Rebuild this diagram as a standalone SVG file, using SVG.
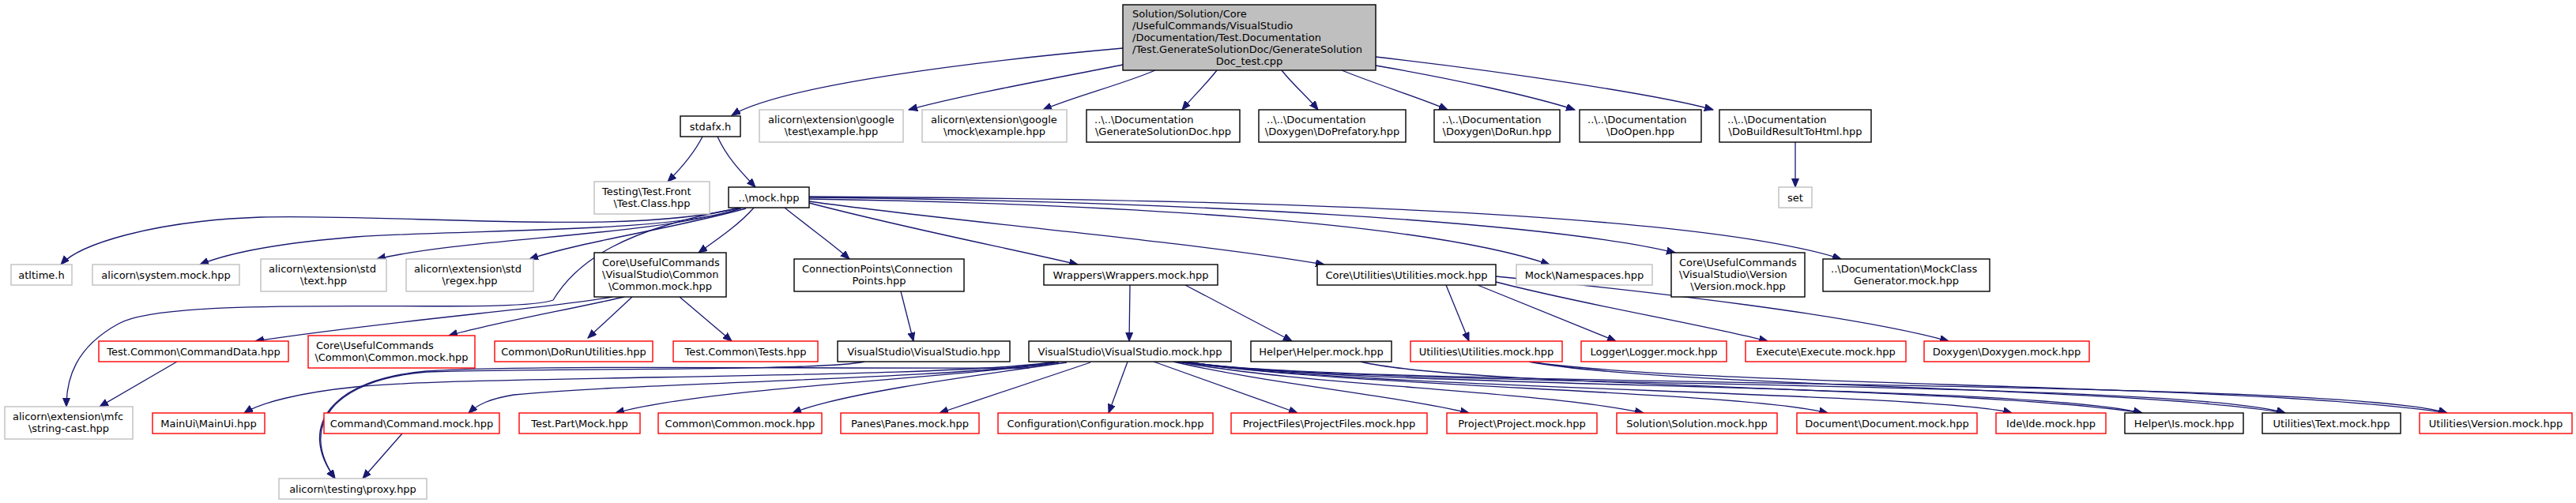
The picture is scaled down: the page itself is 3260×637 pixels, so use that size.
<svg xmlns="http://www.w3.org/2000/svg" width="3260" height="637" viewBox="0 0 3260 637">
<style>
rect{fill:#fff;stroke-width:1.4}
.k{stroke:#000}
.g{stroke:#bfbfbf}
.r{stroke:#ff0000}
.root{fill:#bfbfbf;stroke:#000}
text{font-family:"DejaVu Sans","Liberation Sans",sans-serif;font-size:13px;fill:#000}
.c{text-anchor:middle}
#edges path{fill:none;stroke:#191970;stroke-width:1.3}
</style>
<defs>
<marker id="a" markerUnits="userSpaceOnUse" markerWidth="12" markerHeight="10" refX="11" refY="4.5" orient="auto">
<path d="M0,0 L11,4.5 L0,9 z" fill="#191970" stroke="#191970" stroke-width="1"/>
</marker>
</defs>
<rect x="0" y="0" width="3260" height="637" style="fill:#fff;stroke:none"/>
<g id="edges">
<path d="M1421,61 C1230,78 990,108 926,146" marker-end="url(#a)"/>
<path d="M1421,82 C1330,100 1220,120 1150,139" marker-end="url(#a)"/>
<path d="M1462,89 C1420,107 1360,122 1320,139" marker-end="url(#a)"/>
<path d="M1540,89 C1525,108 1510,122 1496,139" marker-end="url(#a)"/>
<path d="M1622,89 C1637,108 1654,122 1668,139" marker-end="url(#a)"/>
<path d="M1698,89 C1745,108 1800,125 1832,139" marker-end="url(#a)"/>
<path d="M1741,83 C1840,100 1940,122 1993,139" marker-end="url(#a)"/>
<path d="M1741,72 C1900,90 2100,120 2168,139" marker-end="url(#a)"/>
<path d="M889,173 C878,195 860,215 845,230" marker-end="url(#a)"/>
<path d="M908,173 C920,200 940,220 956,237" marker-end="url(#a)"/>
<path d="M2272,180 L2272,237" marker-end="url(#a)"/>
<path d="M940,262 C800,300 500,270 330,275 C190,280 100,310 77,335" marker-end="url(#a)"/>
<path d="M936,264 C850,295 600,290 450,300 C350,308 290,320 253,335" marker-end="url(#a)"/>
<path d="M938,264 C820,300 600,300 477,328" marker-end="url(#a)"/>
<path d="M944,264 C850,290 740,305 670,328" marker-end="url(#a)"/>
<path d="M933,264 C790,290 730,330 700,380 C650,400 220,370 150,410 C95,440 84,480 84,515" marker-end="url(#a)"/>
<path d="M954,263 C935,285 905,305 884,320" marker-end="url(#a)"/>
<path d="M993,263 C1020,285 1055,310 1075,328" marker-end="url(#a)"/>
<path d="M1024,257 C1150,290 1280,315 1364,335" marker-end="url(#a)"/>
<path d="M1024,255 C1200,280 1500,305 1676,335" marker-end="url(#a)"/>
<path d="M1024,252 C1400,258 1800,280 1961,335" marker-end="url(#a)"/>
<path d="M1024,250 C1500,255 1950,280 2120,320" marker-end="url(#a)"/>
<path d="M1024,249 C1600,252 2150,270 2330,328" marker-end="url(#a)"/>
<path d="M775,376 C700,390 500,405 323,432" marker-end="url(#a)"/>
<path d="M790,376 C720,392 620,410 568,425" marker-end="url(#a)"/>
<path d="M800,376 L744,428" marker-end="url(#a)"/>
<path d="M860,376 L926,432" marker-end="url(#a)"/>
<path d="M224,458 L126,515" marker-end="url(#a)"/>
<path d="M1140,369 L1156,432" marker-end="url(#a)"/>
<path d="M1430,361 L1429,432" marker-end="url(#a)"/>
<path d="M1500,361 L1635,432" marker-end="url(#a)"/>
<path d="M1830,361 L1859,432" marker-end="url(#a)"/>
<path d="M1870,361 L2045,432" marker-end="url(#a)"/>
<path d="M1893,357 C2000,385 2150,410 2237,432" marker-end="url(#a)"/>
<path d="M1893,350 C2100,370 2350,400 2466,432" marker-end="url(#a)"/>
<path d="M1335,458 C1200,480 600,475 450,490 C380,497 330,510 309,523" marker-end="url(#a)"/>
<path d="M1335,459 C1200,480 800,485 650,500 C620,505 605,512 593,523" marker-end="url(#a)"/>
<path d="M1340,459 C1200,480 900,490 779,523" marker-end="url(#a)"/>
<path d="M1350,459 C1200,480 1060,500 1003,523" marker-end="url(#a)"/>
<path d="M1380,459 L1189,523" marker-end="url(#a)"/>
<path d="M1427,458 L1403,523" marker-end="url(#a)"/>
<path d="M1460,458 L1642,523" marker-end="url(#a)"/>
<path d="M1485,458 C1600,485 1760,500 1859,523" marker-end="url(#a)"/>
<path d="M1490,458 C1650,488 1950,495 2080,523" marker-end="url(#a)"/>
<path d="M1495,458 C1700,490 2200,495 2313,523" marker-end="url(#a)"/>
<path d="M1495,458 C1700,492 2450,497 2546,523" marker-end="url(#a)"/>
<path d="M1500,458 C1700,492 2550,485 2711,523" marker-end="url(#a)"/>
<path d="M1500,458 C1700,492 2750,480 2892,523" marker-end="url(#a)"/>
<path d="M1500,458 C1700,492 2950,478 3097,523" marker-end="url(#a)"/>
<path d="M1302,466 C1000,467 650,462 540,470 C420,480 375,540 424,606" marker-end="url(#a)"/>
<path d="M1094,458 C1040,470 700,466 540,471 C420,481 378,540 424,606" marker-end="url(#a)"/>
<path d="M509,549 L459,606" marker-end="url(#a)"/>
<path d="M1722,458 C1850,490 2500,490 2711,523" marker-end="url(#a)"/>
<path d="M1935,458 C2100,490 2700,490 2892,523" marker-end="url(#a)"/>
<path d="M1935,458 C2150,490 2850,485 3097,523" marker-end="url(#a)"/>
</g>
<g id="root"><rect class="root" x="1421" y="6" width="320" height="83"/><text x="1433" y="22">Solution/Solution/Core</text><text x="1433" y="37">/UsefulCommands/VisualStudio</text><text x="1433" y="52">/Documentation/Test.Documentation</text><text x="1433" y="67">/Test.GenerateSolutionDoc/GenerateSolution</text><text class="c" x="1581" y="82">Doc_test.cpp</text></g>
<g id="stdafx"><rect class="k" x="861" y="147" width="76" height="26"/><text class="c" x="899" y="164.5">stdafx.h</text></g>
<g id="gtest"><rect class="g" x="961" y="139" width="182" height="41"/><text x="972" y="156">alicorn\extension\google</text><text class="c" x="1052" y="171">\test\example.hpp</text></g>
<g id="gmock"><rect class="g" x="1167" y="139" width="183" height="41"/><text x="1178" y="156">alicorn\extension\google</text><text class="c" x="1258.5" y="171">\mock\example.hpp</text></g>
<g id="gensoldoc"><rect class="k" x="1375" y="139" width="194" height="41"/><text x="1385" y="156">..\..\Documentation</text><text class="c" x="1472" y="171">\GenerateSolutionDoc.hpp</text></g>
<g id="doprefatory"><rect class="k" x="1593" y="139" width="186" height="41"/><text x="1603" y="156">..\..\Documentation</text><text class="c" x="1686" y="171">\Doxygen\DoPrefatory.hpp</text></g>
<g id="dorun"><rect class="k" x="1815" y="139" width="159" height="41"/><text x="1825" y="156">..\..\Documentation</text><text class="c" x="1894.5" y="171">\Doxygen\DoRun.hpp</text></g>
<g id="doopen"><rect class="k" x="1999" y="139" width="154" height="41"/><text x="2009" y="156">..\..\Documentation</text><text class="c" x="2076" y="171">\DoOpen.hpp</text></g>
<g id="dobuild"><rect class="k" x="2176" y="139" width="192" height="41"/><text x="2186" y="156">..\..\Documentation</text><text class="c" x="2272" y="171">\DoBuildResultToHtml.hpp</text></g>
<g id="testing"><rect class="g" x="752" y="230" width="146" height="41"/><text x="762" y="247">Testing\Test.Front</text><text class="c" x="825" y="262">\Test.Class.hpp</text></g>
<g id="mock"><rect class="k" x="922" y="237" width="102" height="26"/><text class="c" x="973" y="254.5">..\mock.hpp</text></g>
<g id="set"><rect class="g" x="2251" y="237" width="42" height="26"/><text class="c" x="2272" y="254.5">set</text></g>
<g id="atltime"><rect class="g" x="14" y="335" width="77" height="26"/><text class="c" x="52.5" y="352.5">atltime.h</text></g>
<g id="sysmock"><rect class="g" x="117" y="335" width="186" height="26"/><text class="c" x="210" y="352.5">alicorn\system.mock.hpp</text></g>
<g id="stdtext"><rect class="g" x="330" y="328" width="159" height="41"/><text x="340" y="345">alicorn\extension\std</text><text class="c" x="409.5" y="360">\text.hpp</text></g>
<g id="stdregex"><rect class="g" x="514" y="328" width="161" height="41"/><text x="524" y="345">alicorn\extension\std</text><text class="c" x="594.5" y="360">\regex.hpp</text></g>
<g id="vscommon"><rect class="k" x="752" y="320" width="167" height="56"/><text x="762" y="337">Core\UsefulCommands</text><text x="762" y="352">\VisualStudio\Common</text><text class="c" x="835.5" y="367">\Common.mock.hpp</text></g>
<g id="connpts"><rect class="k" x="1005" y="328" width="215" height="41"/><text x="1015" y="345">ConnectionPoints\Connection</text><text class="c" x="1112.5" y="360">Points.hpp</text></g>
<g id="wrappers"><rect class="k" x="1321" y="335" width="220" height="26"/><text class="c" x="1431" y="352.5">Wrappers\Wrappers.mock.hpp</text></g>
<g id="coreutil"><rect class="k" x="1667" y="335" width="226" height="26"/><text class="c" x="1780" y="352.5">Core\Utilities\Utilities.mock.hpp</text></g>
<g id="namespaces"><rect class="g" x="1919" y="335" width="172" height="26"/><text class="c" x="2005" y="352.5">Mock\Namespaces.hpp</text></g>
<g id="vsversion"><rect class="k" x="2115" y="320" width="169" height="56"/><text x="2125" y="337">Core\UsefulCommands</text><text x="2125" y="352">\VisualStudio\Version</text><text class="c" x="2199.5" y="367">\Version.mock.hpp</text></g>
<g id="mockclassgen"><rect class="k" x="2307" y="328" width="211" height="41"/><text x="2317" y="345">..\Documentation\MockClass</text><text class="c" x="2412.5" y="360">Generator.mock.hpp</text></g>
<g id="cmddata"><rect class="r" x="125" y="432" width="240" height="26"/><text class="c" x="245" y="449.5">Test.Common\CommandData.hpp</text></g>
<g id="ucommon"><rect class="r" x="390" y="425" width="211" height="41"/><text x="400" y="442">Core\UsefulCommands</text><text class="c" x="495.5" y="457">\Common\Common.mock.hpp</text></g>
<g id="dorunutil"><rect class="r" x="626" y="432" width="200" height="26"/><text class="c" x="726" y="449.5">Common\DoRunUtilities.hpp</text></g>
<g id="tests"><rect class="r" x="852" y="432" width="183" height="26"/><text class="c" x="943.5" y="449.5">Test.Common\Tests.hpp</text></g>
<g id="vshpp"><rect class="k" x="1060" y="432" width="218" height="26"/><text class="c" x="1169" y="449.5">VisualStudio\VisualStudio.hpp</text></g>
<g id="vsmock"><rect class="k" x="1302" y="432" width="256" height="26"/><text class="c" x="1430" y="449.5">VisualStudio\VisualStudio.mock.hpp</text></g>
<g id="helpermock"><rect class="k" x="1583" y="432" width="178" height="26"/><text class="c" x="1672" y="449.5">Helper\Helper.mock.hpp</text></g>
<g id="utilmock"><rect class="r" x="1785" y="432" width="192" height="26"/><text class="c" x="1881" y="449.5">Utilities\Utilities.mock.hpp</text></g>
<g id="logger"><rect class="r" x="2001" y="432" width="184" height="26"/><text class="c" x="2093" y="449.5">Logger\Logger.mock.hpp</text></g>
<g id="execute"><rect class="r" x="2209" y="432" width="203" height="26"/><text class="c" x="2310.5" y="449.5">Execute\Execute.mock.hpp</text></g>
<g id="doxygen"><rect class="r" x="2435" y="432" width="209" height="26"/><text class="c" x="2539.5" y="449.5">Doxygen\Doxygen.mock.hpp</text></g>
<g id="stringcast"><rect class="g" x="6" y="515" width="162" height="41"/><text x="16" y="532">alicorn\extension\mfc</text><text class="c" x="87" y="547">\string-cast.hpp</text></g>
<g id="mainui"><rect class="r" x="193" y="523" width="142" height="26"/><text class="c" x="264" y="540.5">MainUi\MainUi.hpp</text></g>
<g id="command"><rect class="r" x="410" y="523" width="222" height="26"/><text class="c" x="521" y="540.5">Command\Command.mock.hpp</text></g>
<g id="testpart"><rect class="r" x="657" y="523" width="153" height="26"/><text class="c" x="733.5" y="540.5">Test.Part\Mock.hpp</text></g>
<g id="common"><rect class="r" x="833" y="523" width="207" height="26"/><text class="c" x="936.5" y="540.5">Common\Common.mock.hpp</text></g>
<g id="panes"><rect class="r" x="1064" y="523" width="175" height="26"/><text class="c" x="1151.5" y="540.5">Panes\Panes.mock.hpp</text></g>
<g id="config"><rect class="r" x="1263" y="523" width="272" height="26"/><text class="c" x="1399" y="540.5">Configuration\Configuration.mock.hpp</text></g>
<g id="projfiles"><rect class="r" x="1558" y="523" width="248" height="26"/><text class="c" x="1682" y="540.5">ProjectFiles\ProjectFiles.mock.hpp</text></g>
<g id="project"><rect class="r" x="1831" y="523" width="190" height="26"/><text class="c" x="1926" y="540.5">Project\Project.mock.hpp</text></g>
<g id="solution"><rect class="r" x="2046" y="523" width="203" height="26"/><text class="c" x="2147.5" y="540.5">Solution\Solution.mock.hpp</text></g>
<g id="document"><rect class="r" x="2274" y="523" width="228" height="26"/><text class="c" x="2388" y="540.5">Document\Document.mock.hpp</text></g>
<g id="ide"><rect class="r" x="2526" y="523" width="139" height="26"/><text class="c" x="2595.5" y="540.5">Ide\Ide.mock.hpp</text></g>
<g id="is"><rect class="k" x="2689" y="523" width="150" height="26"/><text class="c" x="2764" y="540.5">Helper\Is.mock.hpp</text></g>
<g id="textmock"><rect class="k" x="2863" y="523" width="175" height="26"/><text class="c" x="2950.5" y="540.5">Utilities\Text.mock.hpp</text></g>
<g id="version"><rect class="r" x="3062" y="523" width="193" height="26"/><text class="c" x="3158.5" y="540.5">Utilities\Version.mock.hpp</text></g>
<g id="proxy"><rect class="g" x="353" y="606" width="187" height="26"/><text class="c" x="446.5" y="623.5">alicorn\testing\proxy.hpp</text></g>
</svg>
